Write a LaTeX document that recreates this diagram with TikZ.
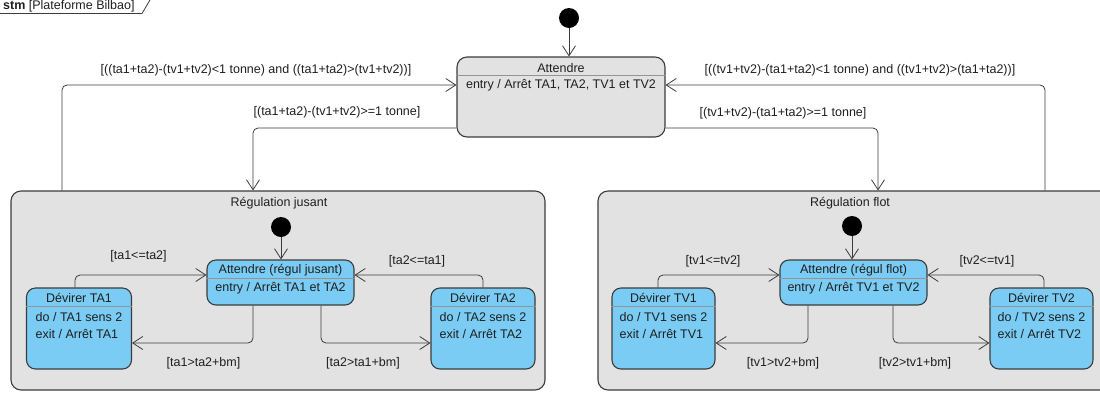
\documentclass[tikz,border=0pt]{standalone}
\usepackage{fontspec}
\setmainfont{Liberation Sans}
\usetikzlibrary{arrows.meta, positioning}
\definecolor{umlgray}{RGB}{226,226,226}
\definecolor{umlblue}{RGB}{122,204,244}
\definecolor{umlline}{RGB}{60,60,60}
\begin{document}
\begin{tikzpicture}[x=1pt, y=-1pt, font=\fontsize{12.5}{17}\selectfont,
  etat/.style={draw=umlline, line width=1.1pt, rounded corners=10pt, inner sep=0pt},
  compo/.style={etat, fill=umlgray},
  simple/.style={etat, fill=umlblue, rounded corners=9pt},
  initial/.style={circle, fill=black, minimum size=20pt, inner sep=0pt},
  trans/.style={draw=umlline, line width=0.8pt, rounded corners=5pt, -{Straight Barb[length=10pt, width=13pt]}},
  txt/.style={inner sep=0pt, text=black!88},
  garde/.style={txt},
  separ/.style={draw=umlline!55, line width=0.5pt}]
\useasboundingbox (0,0) rectangle (1100,392);
\node[txt, anchor=base west] (cadre) at(3,9) {\textbf{stm} [Plateforme Bilbao]};
\draw[umlline, line width=0.8pt] (0,13.5) -- (142,13.5) -- (150,0);
\node[compo, minimum width=534pt, minimum height=199pt] (jus) at(278,290.5) {};
\node[compo, minimum width=512pt, minimum height=199pt] (flo) at(854,290.5) {};
\node[compo, minimum width=208pt, minimum height=80pt] (att) at(561,97) {};
\node[txt] (att-t) at(561,68) {Attendre};
\draw[separ] (att.west |- 0,75) -- (att.east |- 0,75);
\node[txt] (att-e) at(561,85) {entry / Arrêt TA1, TA2, TV1 et TV2};
\node[initial] (ini) at(569,18) {};
\draw[trans] (ini) -- (att.north -| ini);
\draw[trans] (jus.north -| 62,0) |- (att.west |- 0,85);
\node[garde] (g-jl) at(256,70) {[((ta1+ta2)-(tv1+tv2)<1 tonne) and ((ta1+ta2)>(tv1+tv2))]};
\draw[trans] (att.west |- 0,128) -| (jus.north -| 253,0);
\node[garde] (g-jc) at(337,112) {[(ta1+ta2)-(tv1+tv2)>=1 tonne]};
\draw[trans] (flo.north -| 1045,0) |- (att.east |- 0,85);
\node[garde] (g-fl) at(860,70) {[((tv1+tv2)-(ta1+ta2)<1 tonne) and ((tv1+tv2)>(ta1+ta2))]};
\draw[trans] (att.east |- 0,128) -| (flo.north -| 878,0);
\node[garde] (g-fc) at(783,113) {[(tv1+tv2)-(ta1+ta2)>=1 tonne]};
% regulation jusant
\node[txt] (jus-t) at(279,203) {Régulation jusant};
\node[initial] (jini) at(281,227) {};
\node[simple, minimum width=147pt, minimum height=45pt] (jatt) at(280.5,282.5) {};
\node[txt] at(280.5,270) {Attendre (régul jusant)};
\draw[separ] (jatt.west |- 0,278) -- (jatt.east |- 0,278);
\node[txt] at(280.5,288) {entry / Arrêt TA1 et TA2};
\draw[trans] (jini) -- (jatt.north -| jini);
\node[simple, minimum width=105pt, minimum height=81pt] (ta1) at(79,328.5) {};
\node[txt] at(79,298) {Dévirer TA1};
\draw[separ] (ta1.west |- 0,306) -- (ta1.east |- 0,306);
\node[txt, align=left] at(79,325.5) {do / TA1 sens 2\\exit / Arrêt TA1};
\node[simple, minimum width=104pt, minimum height=81pt] (ta2) at(483,328.5) {};
\node[txt] at(483,298) {Dévirer TA2};
\draw[separ] (ta2.west |- 0,306) -- (ta2.east |- 0,306);
\node[txt, align=left] at(483,325.5) {do / TA2 sens 2\\exit / Arrêt TA2};
\draw[trans] (ta1.north -| 75,0) |- (jatt.west |- 0,275);
\node[garde] at(138.5,256) {[ta1<=ta2]};
\draw[trans] (ta2.north -| 483,0) |- (jatt.east |- 0,275);
\node[garde] at(417,261) {[ta2<=ta1]};
\draw[trans] (jatt.south -| 253,0) |- (ta1.east |- 0,343);
\node[garde] at(203.5,363) {[ta1>ta2+bm]};
\draw[trans] (jatt.south -| 321,0) |- (ta2.west |- 0,343);
\node[garde] at(363,363) {[ta2>ta1+bm]};
% regulation flot
\node[txt] (flo-t) at(850,203) {Régulation flot};
\node[initial] (fini) at(852,226) {};
\node[simple, minimum width=147pt, minimum height=45pt] (fatt) at(853.5,282.5) {};
\node[txt] at(853.5,270) {Attendre (régul flot)};
\draw[separ] (fatt.west |- 0,278) -- (fatt.east |- 0,278);
\node[txt] at(853.5,288) {entry / Arrêt TV1 et TV2};
\draw[trans] (fini) -- (fatt.north -| fini);
\node[simple, minimum width=103pt, minimum height=81pt] (tv1) at(663.5,328.5) {};
\node[txt] at(663.5,298) {Dévirer TV1};
\draw[separ] (tv1.west |- 0,306) -- (tv1.east |- 0,306);
\node[txt, align=left] at(663.5,325.5) {do / TV1 sens 2\\exit / Arrêt TV1};
\node[simple, minimum width=103pt, minimum height=81pt] (tv2) at(1041.5,328.5) {};
\node[txt] at(1041.5,298) {Dévirer TV2};
\draw[separ] (tv2.west |- 0,306) -- (tv2.east |- 0,306);
\node[txt, align=left] at(1041.5,325.5) {do / TV2 sens 2\\exit / Arrêt TV2};
\draw[trans] (tv1.north -| 658,0) |- (fatt.west |- 0,275);
\node[garde] at(713,261) {[tv1<=tv2]};
\draw[trans] (tv2.north -| 1044,0) |- (fatt.east |- 0,275);
\node[garde] at(987,261) {[tv2<=tv1]};
\draw[trans] (fatt.south -| 808,0) |- (tv1.east |- 0,343);
\node[garde] at(783,363) {[tv1>tv2+bm]};
\draw[trans] (fatt.south -| 893,0) |- (tv2.west |- 0,343);
\node[garde] at(915,363) {[tv2>tv1+bm]};
\end{tikzpicture}
\end{document}
